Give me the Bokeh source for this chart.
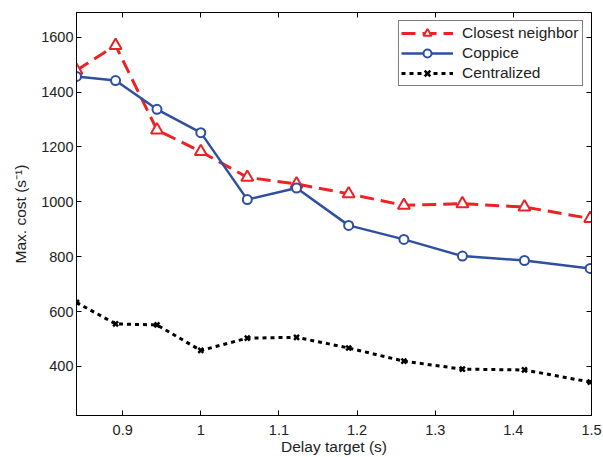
from bokeh.plotting import figure
from bokeh.models import LinearAxis, Legend, LegendItem, Range1d, FixedTicker, CustomJSTickFormatter
from bokeh.embed import file_html
from bokeh.resources import INLINE

# Data
delay = [0.8409, 0.8909, 0.9439, 1.0, 1.0595, 1.1225, 1.1892, 1.2599, 1.3348, 1.4142, 1.4983]
closest = [1479, 1570, 1262, 1183, 1089, 1065, 1029, 987, 993, 981, 939]
coppice = [1457, 1442, 1337, 1252, 1008, 1050, 914, 863, 802, 786, 757]
central = [633, 555, 551, 458, 503, 506, 467, 419, 390, 387, 343]
x_ticks = [0.9, 1.0, 1.1, 1.2, 1.3, 1.4, 1.5]
y_ticks = [400, 600, 800, 1000, 1200, 1400, 1600]

FONT = "Liberation Sans"
TXT = "#222222"
RED = "#EC2227"
BLUE = "#2F4FA0"

p = figure(width=603, height=457, output_backend="svg", toolbar_location=None,
           x_range=Range1d(0.8409, 1.5), y_range=Range1d(221, 1690),
           min_border_left=76, min_border_right=12, min_border_top=12, min_border_bottom=40)
p.xgrid.visible = False
p.ygrid.visible = False
p.outline_line_color = "black"
p.outline_line_width = 1
p.background_fill_color = "white"
p.border_fill_color = "white"

for ax in (p.xaxis[0], p.yaxis[0]):
    ax.major_tick_in = 5
    ax.major_tick_out = 0
    ax.minor_tick_line_color = None
    ax.axis_line_color = "black"
    ax.major_tick_line_color = "black"
    ax.major_label_text_font = FONT
    ax.major_label_text_font_size = "14.5px"
    ax.major_label_text_color = TXT
    ax.axis_label_text_font = FONT
    ax.axis_label_text_font_size = "15.5px"
    ax.axis_label_text_font_style = "normal"
    ax.axis_label_text_color = TXT

p.xaxis[0].ticker = FixedTicker(ticks=x_ticks)
p.yaxis[0].ticker = FixedTicker(ticks=y_ticks)
p.xaxis[0].major_label_overrides = {1.0: "1"}
p.xaxis[0].axis_label = "Delay target (s)"
p.yaxis[0].axis_label = "Max. cost (s\u207b\u00b9)"
p.xaxis[0].major_label_standoff = 9
p.xaxis[0].axis_label_standoff = 0
p.yaxis[0].major_label_standoff = 3
p.yaxis[0].axis_label_standoff = 9

top_ax = LinearAxis(ticker=FixedTicker(ticks=x_ticks), major_tick_in=5, major_tick_out=0,
                    minor_tick_line_color=None, formatter=CustomJSTickFormatter(code="return ''"),
                    major_label_standoff=0)
right_ax = LinearAxis(ticker=FixedTicker(ticks=y_ticks), major_tick_in=5, major_tick_out=0,
                      minor_tick_line_color=None, formatter=CustomJSTickFormatter(code="return ''"),
                      major_label_standoff=0)
p.add_layout(top_ax, "above")
p.add_layout(right_ax, "right")

r1l = p.line(delay, closest, line_color=RED, line_width=3, line_dash="14 7")
r1m = p.scatter(delay, closest, marker="triangle", size=12, line_color=RED, line_width=2,
                fill_color="white")
r2l = p.line(delay, coppice, line_color=BLUE, line_width=2.5)
r2m = p.scatter(delay, coppice, marker="circle", size=9, line_color=BLUE, line_width=2,
                fill_color="white")
r3l = p.line(delay, central, line_color="black", line_width=3, line_dash="4 4")
r3m = p.scatter(delay, central, marker="x", size=7, line_color="black", line_width=2.5)

legend = Legend(items=[
    LegendItem(label="Closest neighbor", renderers=[r1l, r1m]),
    LegendItem(label="Coppice", renderers=[r2l, r2m]),
    LegendItem(label="Centralized", renderers=[r3l, r3m]),
], location="top_right")
legend.margin = 8
legend.padding = 2
legend.spacing = 0
legend.glyph_width = 52
legend.glyph_height = 20
legend.label_height = 20
legend.label_width = 118
legend.label_standoff = 9
legend.label_text_font = FONT
legend.label_text_font_size = "15.5px"
legend.label_text_color = TXT
legend.border_line_color = "black"
legend.border_line_width = 1
legend.background_fill_color = "white"
legend.background_fill_alpha = 1
p.add_layout(legend, "center")

open("out.html", "w").write(file_html(p, INLINE))
